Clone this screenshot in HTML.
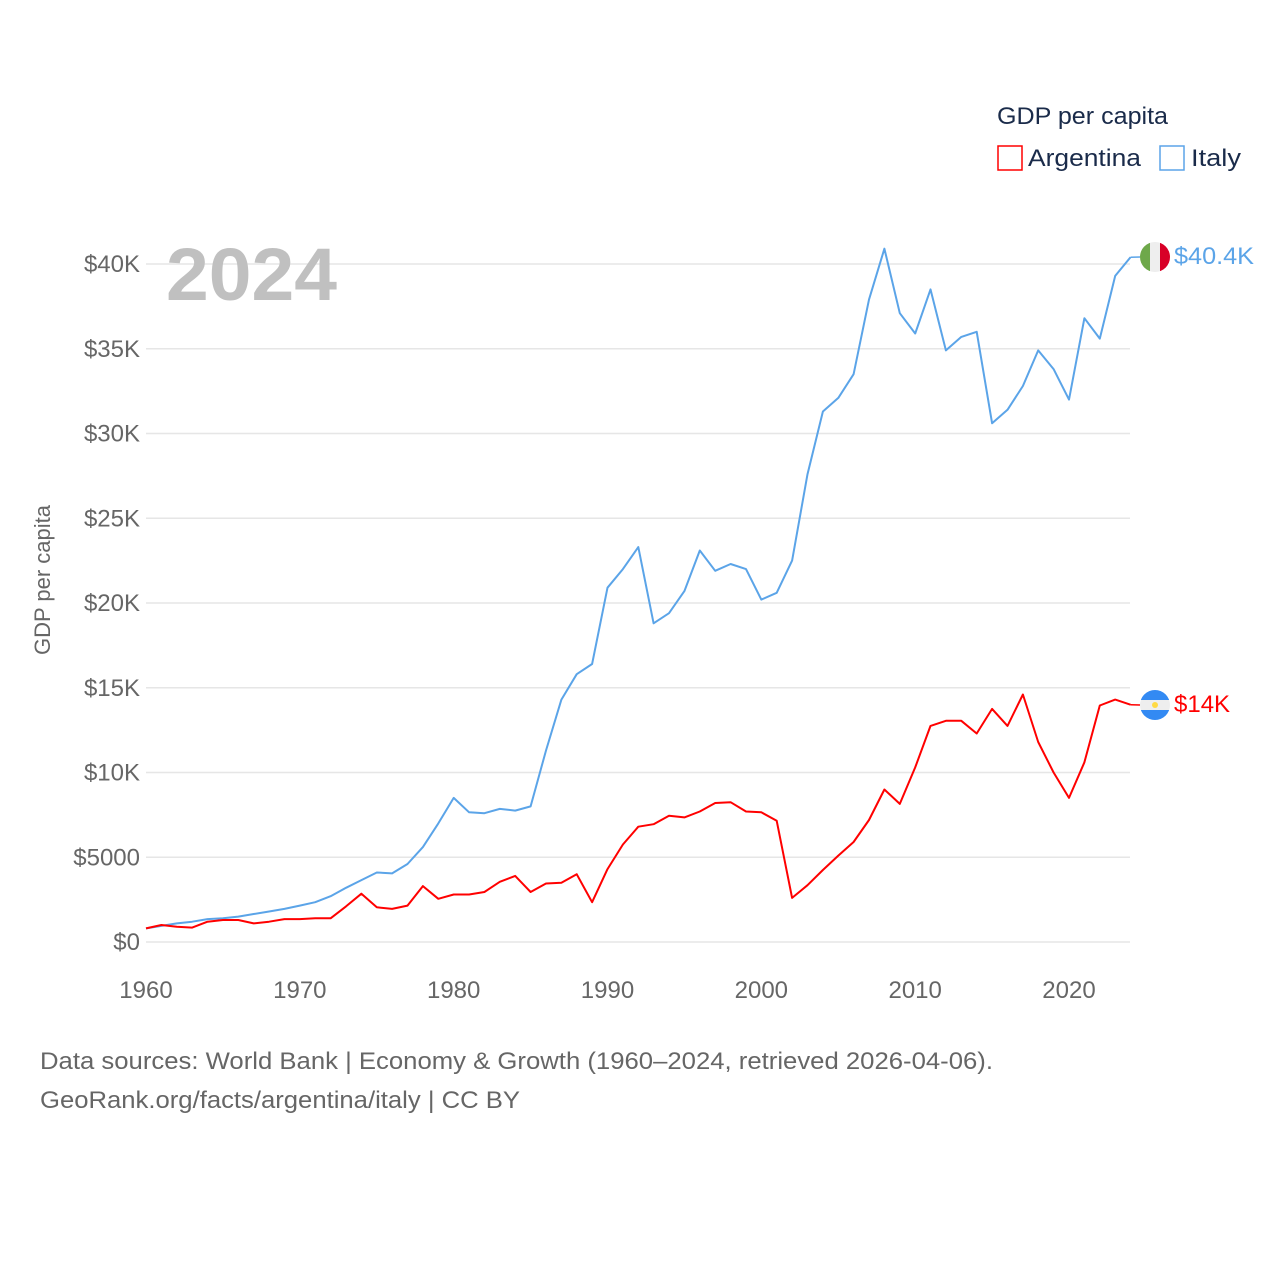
<!DOCTYPE html>
<html><head><meta charset="utf-8"><style>
body{margin:0;background:#fff;}
svg{display:block;font-family:"Liberation Sans",sans-serif;}
</style></head><body>
<svg id="chart" width="1280" height="1280">
<defs>
<clipPath id="cI"><circle cx="1155" cy="257" r="15"/></clipPath>
<clipPath id="cA"><circle cx="1155" cy="705" r="15"/></clipPath>
</defs>
<g id="grid"></g>
<g id="yticks"></g>
<g id="xticks"></g>
<text x="166" y="300" font-size="74" font-weight="bold" fill="#c0c0c0" textLength="171" lengthAdjust="spacingAndGlyphs">2024</text>
<text transform="translate(50,580) rotate(-90)" text-anchor="middle" font-size="22" fill="#666">GDP per capita</text>
<g id="series"></g>
<g>
<text x="997" y="124" font-size="24" fill="#1a2b4a" textLength="171" lengthAdjust="spacingAndGlyphs">GDP per capita</text>
<g><rect x="998" y="146" width="24" height="24" fill="none" stroke="#f00" stroke-width="1.5"/><text x="1028" y="166" font-size="24" fill="#1a2b4a" textLength="113" lengthAdjust="spacingAndGlyphs">Argentina</text></g>
<g><rect x="1160" y="146" width="24" height="24" fill="none" stroke="#5ba4e8" stroke-width="1.5"/><text x="1191" y="166" font-size="24" fill="#1a2b4a" textLength="50" lengthAdjust="spacingAndGlyphs">Italy</text></g>
</g>
<g clip-path="url(#cI)"><rect x="1140" y="242" width="10" height="30" fill="#6ea84a"/><rect x="1150" y="242" width="10" height="30" fill="#eee"/><rect x="1160" y="242" width="10" height="30" fill="#d80027"/></g>
<g clip-path="url(#cA)"><rect x="1140" y="690" width="30" height="10" fill="#338af3"/><rect x="1140" y="700" width="30" height="10" fill="#eee"/><rect x="1140" y="710" width="30" height="10" fill="#338af3"/><circle cx="1155" cy="705" r="3" fill="#ffda44"/></g>
<text x="1174" y="264" font-size="24" fill="#5ba4e8" textLength="80" lengthAdjust="spacingAndGlyphs">$40.4K</text>
<text x="1174" y="712" font-size="24" fill="#f00">$14K</text>
<text x="40" y="1069" font-size="24" fill="#666" textLength="953" lengthAdjust="spacingAndGlyphs">Data sources: World Bank | Economy &amp; Growth (1960–2024, retrieved 2026-04-06).</text>
<text x="40" y="1108" font-size="24" fill="#666" textLength="480" lengthAdjust="spacingAndGlyphs">GeoRank.org/facts/argentina/italy | CC BY</text>
</svg>
<script>
const years=[];for(let y=1960;y<=2024;y++)years.push(y);
const italy=[0.8,0.95,1.1,1.2,1.35,1.4,1.5,1.65,1.8,1.95,2.15,2.35,2.7,3.2,3.65,4.1,4.05,4.6,5.6,7.0,8.5,7.65,7.6,7.85,7.75,8.0,11.3,14.3,15.8,16.4,20.9,22.0,23.3,18.8,19.4,20.7,23.1,21.9,22.3,22.0,20.2,20.6,22.5,27.6,31.3,32.1,33.5,37.9,40.9,37.1,35.9,38.5,34.9,35.7,36.0,30.6,31.4,32.8,34.9,33.8,32.0,36.8,35.6,39.3,40.4];
const argentina=[0.8,1.0,0.9,0.85,1.2,1.3,1.3,1.1,1.2,1.35,1.35,1.4,1.4,2.1,2.85,2.05,1.95,2.15,3.3,2.55,2.8,2.8,2.95,3.55,3.9,2.95,3.45,3.5,4.0,2.35,4.3,5.75,6.8,6.95,7.45,7.35,7.7,8.2,8.25,7.7,7.65,7.15,2.6,3.35,4.25,5.1,5.9,7.2,9.0,8.15,10.3,12.75,13.05,13.05,12.3,13.75,12.75,14.6,11.8,10.0,8.5,10.6,13.95,14.3,14.0];
const yTicks=[0,5,10,15,20,25,30,35,40];
const yTickLabels=["$0","$5000","$10K","$15K","$20K","$25K","$30K","$35K","$40K"];
const xTicks=[1960,1970,1980,1990,2000,2010,2020];
const NS="http://www.w3.org/2000/svg";
const xS=y=>146+(y-1960)*(1069-146)/60;
const yS=v=>942-v*(942-264)/40;
function mk(t,a,p){const e=document.createElementNS(NS,t);for(const k in a)e.setAttribute(k,a[k]);p.appendChild(e);return e;}
const grid=document.getElementById('grid'),yt=document.getElementById('yticks'),xt=document.getElementById('xticks'),ser=document.getElementById('series');
yTicks.forEach((v,i)=>{
 const l=mk('line',{x1:146,x2:1130,y1:yS(v),y2:yS(v),stroke:'#e6e6e6','stroke-width':1.5},grid);
 
 
 const t=mk('text',{x:140,y:yS(v)+8,'text-anchor':'end','font-size':24,fill:'#666'},yt);
 t.textContent=yTickLabels[i];
 
 
});
xTicks.forEach(v=>{
 const t=mk('text',{x:xS(v),y:998,'text-anchor':'middle','font-size':24,fill:'#666'},xt);
 t.textContent=v;
 
 
});
function line(data,color,name,fy){
 const pts=data.map((v,i)=>xS(years[i]).toFixed(1)+','+yS(v).toFixed(1));
 const last=yS(data[data.length-1]);
 const p=mk('polyline',{points:pts.join(' '),fill:'none',stroke:color,'stroke-width':2,'stroke-linejoin':'round'},ser);
 
 
 const c=mk('line',{x1:xS(2024),x2:1140,y1:last,y2:fy,stroke:color,'stroke-width':1.5},ser);
 
 
}
line(italy,'#5ba4e8','italy-line',257);
line(argentina,'#f00','argentina-line',705);
</script>
</body></html>
